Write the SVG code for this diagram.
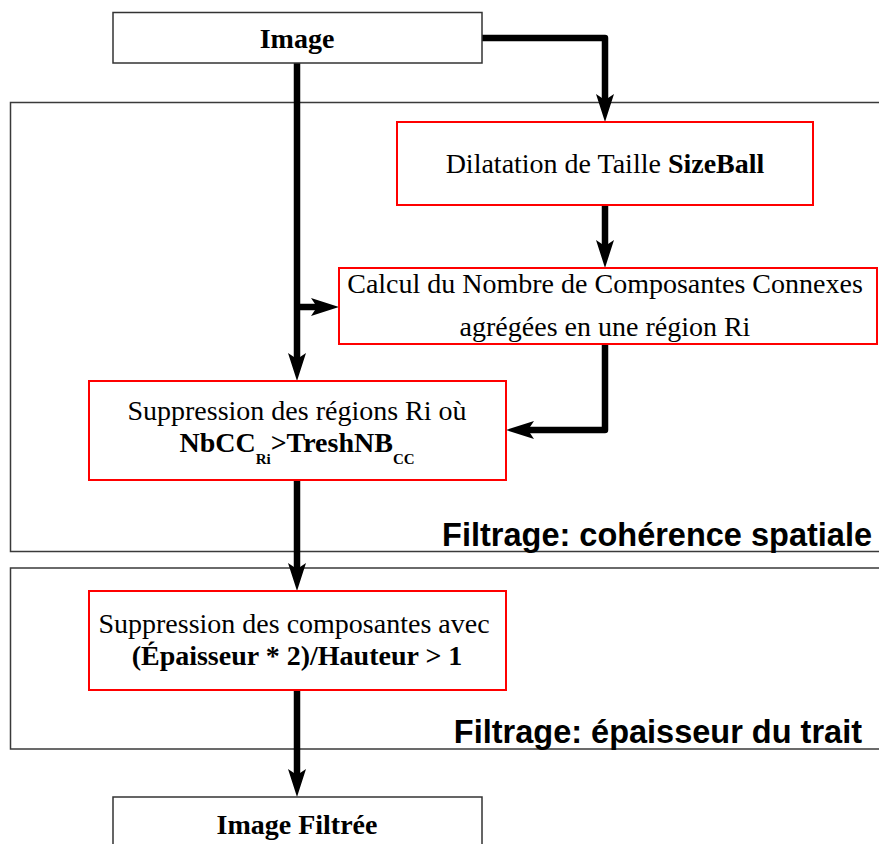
<svg xmlns="http://www.w3.org/2000/svg" width="879" height="844" viewBox="0 0 879 844">
<style>
.frame{fill:none;stroke:#3a3a3a;stroke-width:1.5}
.io{fill:#fff;stroke:#333;stroke-width:1.5}
.proc{fill:#fff;stroke:#ff0000;stroke-width:2}
.t{font-family:"Liberation Serif","Times New Roman",serif;font-size:28px;fill:#000;text-anchor:middle}
.b{font-weight:bold}
.sub{font-size:15px;font-weight:bold}
.lbl{font-family:"Liberation Sans",Arial,sans-serif;font-weight:bold;font-size:32.5px;fill:#000;text-anchor:end}
.conn{fill:none;stroke:#000;stroke-width:6.5;stroke-linejoin:round;marker-end:url(#ah)}
</style>
<defs>
<marker id="ah" markerUnits="userSpaceOnUse" viewBox="0 0 28 18" refX="8" refY="9" markerWidth="28" markerHeight="18" orient="auto">
<path d="M0,0 L28,9 L0,18 L6,9 Z" fill="#000"/>
</marker>
</defs>
<rect width="879" height="844" fill="#fff"/>
<g id="group-coherence">
<rect class="frame" x="10.5" y="102.5" width="900" height="449"/>
<text class="lbl" x="872" y="546">Filtrage: cohérence spatiale</text>
</g>
<g id="group-epaisseur">
<rect class="frame" x="10.5" y="568" width="900" height="181"/>
<text class="lbl" x="862" y="743">Filtrage: épaisseur du trait</text>
</g>
<g id="connectors">
<path class="conn" d="M482,38 H605 V102"/>
<path class="conn" d="M297,63 V361"/>
<path class="conn" d="M297,307 H319"/>
<path class="conn" d="M605,205 V248"/>
<path class="conn" d="M605,344 V430 H526"/>
<path class="conn" d="M297,480 V571"/>
<path class="conn" d="M297,690 V777"/>
</g>
<g id="node-image">
<rect class="io" x="113" y="12.5" width="369" height="50.5"/>
<text class="t b" x="297" y="48">Image</text>
</g>
<g id="node-dilatation">
<rect class="proc" x="397" y="122" width="416" height="83"/>
<text class="t" x="605" y="173">Dilatation de Taille <tspan class="b">SizeBall</tspan></text>
</g>
<g id="node-calcul">
<rect class="proc" x="339" y="268" width="538" height="76"/>
<text class="t" x="605" y="293">Calcul du Nombre de Composantes Connexes</text>
<text class="t" x="605" y="336">agrégées en une région Ri</text>
</g>
<g id="node-suppression-regions">
<rect class="proc" x="89" y="381" width="417" height="99"/>
<text class="t" x="297" y="420">Suppression des régions Ri où</text>
<text class="t b" x="297" y="452">NbCC<tspan class="sub" dy="12">Ri</tspan><tspan dy="-12">&gt;TreshNB</tspan><tspan class="sub" dy="12">CC</tspan></text>
</g>
<g id="node-suppression-composantes">
<rect class="proc" x="89" y="591" width="417" height="99"/>
<text class="t" x="294" y="633">Suppression des composantes avec</text>
<text class="t b" x="297" y="665">(Épaisseur * 2)/Hauteur &gt; 1</text>
</g>
<g id="node-image-filtree">
<rect class="io" x="113" y="797" width="369" height="60"/>
<text class="t b" x="297" y="834">Image Filtrée</text>
</g>
</svg>
